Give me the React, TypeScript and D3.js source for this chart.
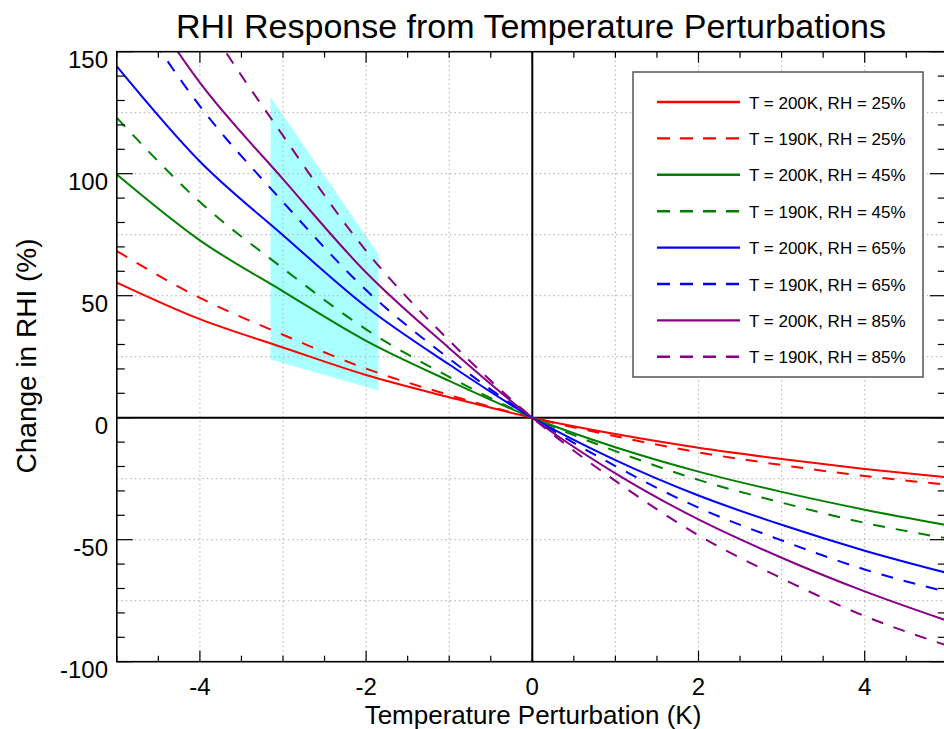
import React from "react";
import * as d3 from "d3";

const tempPerturbation = [-5, -4, -3, -2, -1, 0, 1, 2, 3, 4, 5];

const t200rh25 = [55.4, 40.4, 28.8, 17.5, 8.4, 0, -6.7, -12.3, -16.9, -21.0, -24.5];
const t190rh25 = [68.3, 49.1, 34.0, 20.1, 9.3, 0, -7.6, -14.2, -19.4, -23.9, -27.5];
const t200rh45 = [99.7, 72.7, 51.8, 31.5, 15.1, 0, -12.1, -22.1, -30.4, -37.7, -44.1];
const t190rh45 = [122.9, 88.4, 61.2, 36.2, 16.7, 0, -13.7, -25.5, -34.8, -43.1, -49.5];
const t200rh65 = [144.0, 105.0, 74.8, 45.5, 21.8, 0, -17.4, -31.9, -43.9, -54.5, -63.7];
const t190rh65 = [177.5, 127.7, 88.4, 52.3, 24.2, 0, -19.8, -36.9, -50.3, -62.2, -71.5];
const t200rh85 = [188.3, 137.3, 97.8, 59.5, 28.5, 0, -22.8, -41.7, -57.4, -71.2, -83.3];
const t190rh85 = [232.1, 167.0, 115.6, 68.4, 31.6, 0, -25.9, -48.2, -65.8, -81.3, -93.5];

const seriesLabels = [
  "T = 200K, RH = 25%",
  "T = 190K, RH = 25%",
  "T = 200K, RH = 45%",
  "T = 190K, RH = 45%",
  "T = 200K, RH = 65%",
  "T = 190K, RH = 65%",
  "T = 200K, RH = 85%",
  "T = 190K, RH = 85%",
];
const seriesValues = [t200rh25, t190rh25, t200rh45, t190rh45, t200rh65, t190rh65, t200rh85, t190rh85];
const seriesColors = ["#ff0000", "#ff0000", "#008000", "#008000", "#0000ff", "#0000ff", "#880088", "#880088"];
const seriesDashed = [false, true, false, true, false, true, false, true];

// shaded region (x, y) corners
const shadeX = [-3.15, -1.85, -1.85, -3.15];
const shadeY = [131.3, 67.0, 11.1, 23.9];

const xTickLabels = [-4, -2, 0, 2, 4];
const yTickLabels = [150, 100, 50, 0, -50, -100];

const FONT = "'Liberation Sans', Arial, Helvetica, sans-serif";

export default function App() {
  const L = 116.8, R = 947.8, T = 51.7, B = 661.7;
  const x = d3.scaleLinear().domain([-5, 5]).range([L, R]);
  const y = d3.scaleLinear().domain([-100, 150]).range([B, T]);

  const line = d3
    .line<[number, number]>()
    .x((d) => x(d[0]))
    .y((d) => y(d[1]))
    .curve(d3.curveMonotoneX);

  const shadePts = shadeX.map((v, i) => `${x(v)},${y(shadeY[i])}`).join(" ");

  const xGrid = d3.range(-4, 5, 1).filter((v) => v !== 0);
  const yGrid = d3.range(-75, 150, 25).filter((v) => v !== 0);
  const xMinor = d3.range(-5, 5.001, 0.5);
  const yMinor = d3.range(-100, 150.001, 10);

  const legendX0 = 633, legendY0 = 72, legendW = 290, legendH = 305;
  const rowH = 36.4;

  return (
    <svg
      width={944}
      height={729}
      style={{ position: "absolute", left: 0, top: 0, display: "block", background: "#fff" }}
      fontFamily={FONT}
    >
      <defs>
        <clipPath id="plot">
          <rect x={L} y={T} width={R - L} height={B - T} />
        </clipPath>
      </defs>
      <rect x={0} y={0} width={944} height={729} fill="#fff" />

      <polygon points={shadePts} fill="#aaffff" />

      {xGrid.map((v) => (
        <line key={"gx" + v} x1={x(v)} x2={x(v)} y1={T} y2={B} stroke="#bbbbbb" strokeWidth={1.2} strokeDasharray="1.5,3" />
      ))}
      {yGrid.map((v) => (
        <line key={"gy" + v} x1={L} x2={R} y1={y(v)} y2={y(v)} stroke="#bbbbbb" strokeWidth={1.2} strokeDasharray="1.5,3" />
      ))}

      <line x1={x(0)} x2={x(0)} y1={T} y2={B} stroke="#000" strokeWidth={2} />
      <line x1={L} x2={R} y1={y(0)} y2={y(0)} stroke="#000" strokeWidth={2} />

      <g clipPath="url(#plot)">
        {seriesValues.map((vals, i) => (
          <path
            key={"s" + i}
            d={line(tempPerturbation.map((t, j) => [t, vals[j]] as [number, number])) || ""}
            fill="none"
            stroke={seriesColors[i]}
            strokeWidth={2}
            strokeDasharray={seriesDashed[i] ? "12,11" : undefined}
          />
        ))}
      </g>

      {/* ticks */}
      {xMinor.map((v) => {
        const major = Math.abs(v % 2) < 1e-6;
        const len = major ? 11 : 6;
        return (
          <g key={"tx" + v}>
            <line x1={x(v)} x2={x(v)} y1={B} y2={B - len} stroke="#000" strokeWidth={1.2} />
            <line x1={x(v)} x2={x(v)} y1={T} y2={T + len} stroke="#000" strokeWidth={1.2} />
          </g>
        );
      })}
      {yMinor.map((v) => {
        const major = Math.abs(v % 50) < 1e-6;
        const len = major ? 16 : 8;
        return (
          <g key={"ty" + v}>
            <line x1={L} x2={L + len} y1={y(v)} y2={y(v)} stroke="#000" strokeWidth={1.2} />
            <line x1={R} x2={R - len - 2} y1={y(v)} y2={y(v)} stroke="#000" strokeWidth={1.2} />
          </g>
        );
      })}

      {/* frame */}
      <rect x={L} y={T} width={R - L} height={B - T} fill="none" stroke="#000" strokeWidth={1.6} />

      {/* tick labels */}
      {xTickLabels.map((v) => (
        <text key={"lx" + v} x={x(v)} y={695} textAnchor="middle" fontSize={24} fill="#000">
          {v}
        </text>
      ))}
      {yTickLabels.map((v) => (
        <text key={"ly" + v} x={108} y={y(v) + 16} textAnchor="end" fontSize={24} fill="#000">
          {v}
        </text>
      ))}

      {/* titles */}
      <text x={531} y={38} textAnchor="middle" fontSize={34} fill="#000">
        RHI Response from Temperature Perturbations
      </text>
      <text x={533} y={724} textAnchor="middle" fontSize={26} fill="#000">
        Temperature Perturbation (K)
      </text>
      <text
        transform={`translate(36, 356) rotate(-90)`}
        textAnchor="middle"
        fontSize={28}
        fill="#000"
      >
        Change in RHI (%)
      </text>

      {/* legend */}
      <rect x={legendX0} y={legendY0} width={legendW} height={legendH} fill="#fff" stroke="#555" strokeWidth={1.5} />
      {seriesLabels.map((lab, i) => {
        const cy = 102 + rowH * i;
        return (
          <g key={"lg" + i}>
            <line
              x1={657}
              x2={740}
              y1={cy}
              y2={cy}
              stroke={seriesColors[i]}
              strokeWidth={2.4}
              strokeDasharray={seriesDashed[i] ? "13,10" : undefined}
            />
            <text x={749} y={cy + 6.5} fontSize={17} fill="#000">
              {lab}
            </text>
          </g>
        );
      })}
    </svg>
  );
}
